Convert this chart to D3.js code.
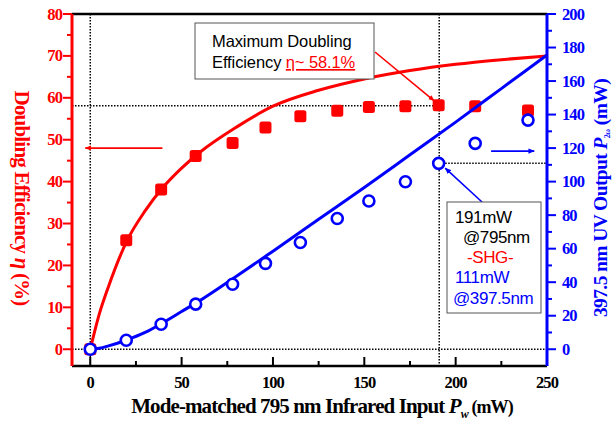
<!DOCTYPE html>
<html>
<head>
<meta charset="utf-8">
<script src="https://cdn.jsdelivr.net/npm/d3@7"></script>
<style>
    body { margin: 0; background: #fff; }
    svg text { font-family: "Liberation Serif", "Times New Roman", serif; }
    .note { font-family: "Liberation Sans", Arial, sans-serif; }
</style>
</head>
<body>
<svg id="chart" width="613" height="421"></svg>
<script>
// --- Data ---
const inputPower = [0, 19.7, 38.8, 57.7, 77.9, 95.9, 115, 135.2, 152.5, 172.5, 190.7, 210.7, 239.6];
const efficiency = [0, 26.0, 38.1, 46.1, 49.2, 52.9, 55.6, 56.9, 57.8, 58.0, 58.2, 58.0, 57.0];
const uvOutput = [0, 5.4, 14.9, 26.9, 38.8, 51.2, 63.7, 78.0, 88.4, 99.9, 110.9, 122.8, 136.7];

// fitted curves
const fitX = [0, 5, 10, 20, 30, 40, 50, 60, 80, 100, 125, 150, 175, 200, 225, 250];
const fitEff = [0, 8.5, 15, 25.8, 33, 38.7, 43.2, 47, 53, 58, 61.8, 64.5, 66.5, 68, 69.1, 70];
const fitUV = [0, 0.6, 2, 5.5, 10, 16, 22.5, 29, 43.5, 58.5, 77.5, 96.5, 116, 135.5, 155.5, 175.5];

const xTicks = [0, 50, 100, 150, 200, 250];
const effTicks = [0, 10, 20, 30, 40, 50, 60, 70, 80];
const uvTicks = [0, 20, 40, 60, 80, 100, 120, 140, 160, 180, 200];

const maxPoint = { x: 191, eff: 58.1, uv: 111 };

// --- Layout ---
const margin = { top: 14, right: 66, bottom: 55, left: 72 };
const W = 613, H = 421;
const svg = d3.select('#chart');

const x = d3.scaleLinear().domain([-10, 250]).range([margin.left, W - margin.right]);
const yL = d3.scaleLinear().domain([-4, 80]).range([H - margin.bottom, margin.top]);
const yR = d3.scaleLinear().domain([-10, 200]).range([H - margin.bottom, margin.top]);

const RED = '#ff0000', BLUE = '#0000ff';
const x0 = x.range()[0], x1 = x.range()[1];
const yTop = margin.top, yBot = H - margin.bottom;

// arrow heads
const defs = svg.append('defs');
[['arrRed', RED], ['arrBlue', BLUE]].forEach(([id, c]) => {
    defs.append('marker')
        .attr('id', id).attr('viewBox', '0 0 10 10')
        .attr('refX', 9).attr('refY', 5)
        .attr('markerWidth', 4).attr('markerHeight', 4)
        .attr('markerUnits', 'strokeWidth')
        .attr('orient', 'auto')
        .append('path').attr('d', 'M0,1 L10,5 L0,9 Z').attr('fill', c);
});

// --- Dotted guide lines ---
const dot = (x1_, y1_, x2_, y2_) => svg.append('line')
    .attr('x1', x1_).attr('y1', y1_).attr('x2', x2_).attr('y2', y2_)
    .attr('stroke', '#000').attr('stroke-width', 1.5).attr('stroke-dasharray', '1.5,1.5');

dot(x(0), yTop, x(0), yBot);
dot(x(maxPoint.x), yTop, x(maxPoint.x), yBot);
dot(x0, yL(maxPoint.eff), x(maxPoint.x), yL(maxPoint.eff));
dot(x(maxPoint.x), yR(maxPoint.uv), x1, yR(maxPoint.uv));
dot(x0, yL(0), x1, yL(0));

// --- Axes ---
// top frame
svg.append('line').attr('x1', x0).attr('x2', x1).attr('y1', yTop).attr('y2', yTop)
    .attr('stroke', '#000').attr('stroke-width', 2.5);

// bottom axis
const gx = svg.append('g');
gx.append('line').attr('x1', x0).attr('x2', x1).attr('y1', yBot).attr('y2', yBot)
    .attr('stroke', '#000').attr('stroke-width', 2.5);
d3.range(0, 251, 25).forEach(v => {
    gx.append('line').attr('x1', x(v)).attr('x2', x(v))
        .attr('y1', yBot).attr('y2', yBot - (v % 50 === 0 ? 9 : 5))
        .attr('stroke', '#000').attr('stroke-width', 2);
});
gx.selectAll('text.tick').data(xTicks).join('text')
    .attr('x', d => x(d)).attr('y', 388)
    .attr('text-anchor', 'middle')
    .attr('font-size', 16.5).attr('font-weight', 'bold')
    .attr('letter-spacing', -0.9)
    .text(d => d);

// left axis (efficiency)
const gl = svg.append('g');
gl.append('line').attr('x1', x0).attr('x2', x0).attr('y1', yTop).attr('y2', yBot)
    .attr('stroke', RED).attr('stroke-width', 3);
d3.range(0, 81, 5).forEach(v => {
    gl.append('line').attr('x1', x0).attr('x2', x0 - (v % 10 === 0 ? 9 : 5))
        .attr('y1', yL(v)).attr('y2', yL(v))
        .attr('stroke', RED).attr('stroke-width', 2);
});
gl.selectAll('text').data(effTicks).join('text')
    .attr('x', x0 - 10).attr('y', d => yL(d) + 5.5)
    .attr('text-anchor', 'end').attr('fill', RED)
    .attr('font-size', 16.5).attr('font-weight', 'bold')
    .attr('letter-spacing', -0.9)
    .text(d => d);

// right axis (UV output)
const gr = svg.append('g');
gr.append('line').attr('x1', x1).attr('x2', x1).attr('y1', yTop).attr('y2', yBot)
    .attr('stroke', BLUE).attr('stroke-width', 3);
d3.range(0, 201, 10).forEach(v => {
    gr.append('line').attr('x1', x1).attr('x2', x1 + (v % 20 === 0 ? 9 : 5))
        .attr('y1', yR(v)).attr('y2', yR(v))
        .attr('stroke', BLUE).attr('stroke-width', 2);
});
gr.selectAll('text').data(uvTicks).join('text')
    .attr('x', x1 + 15).attr('y', d => yR(d) + 5.5)
    .attr('text-anchor', 'start').attr('fill', BLUE)
    .attr('font-size', 16.5).attr('font-weight', 'bold')
    .attr('letter-spacing', -0.9)
    .text(d => d);

// --- Axis titles ---
const xt = svg.append('text')
    .attr('x', 322).attr('y', 413).attr('text-anchor', 'middle')
    .attr('font-size', 21).attr('font-weight', 'bold').attr('letter-spacing', -0.9);
xt.append('tspan').text('Mode-matched 795 nm Infrared Input ');
xt.append('tspan').attr('font-style', 'italic').text('P');
xt.append('tspan').attr('font-size', 12).attr('font-style', 'italic').attr('dy', 5).text('w');
xt.append('tspan').attr('dy', -5).attr('font-size', 18).text(' (mW)');

const lt = svg.append('text')
    .attr('transform', 'translate(15,198) rotate(90)')
    .attr('text-anchor', 'middle').attr('fill', RED)
    .attr('font-size', 21).attr('font-weight', 'bold').attr('letter-spacing', -0.8);
lt.append('tspan').text('Doubling Efficiency ');
lt.append('tspan').attr('font-style', 'italic').text('η');
lt.append('tspan').text('  (%)');

const rt = svg.append('text')
    .attr('transform', 'translate(607,198) rotate(-90)')
    .attr('text-anchor', 'middle').attr('fill', BLUE)
    .attr('font-size', 19.5).attr('font-weight', 'bold').attr('letter-spacing', -0.6);
rt.append('tspan').text('397.5 nm UV Output ');
rt.append('tspan').attr('font-style', 'italic').text('P');
rt.append('tspan').attr('font-size', 8).attr('dy', 3).text('2ω');
rt.append('tspan').attr('dy', -3).text(' (mW)');

// --- Series ---
const effLine = d3.line().x((d, i) => x(fitX[i])).y(d => yL(d)).curve(d3.curveMonotoneX);
const uvLine = d3.line().x((d, i) => x(fitX[i])).y(d => yR(d)).curve(d3.curveMonotoneX);

svg.append('path').datum(fitEff)
    .attr('fill', 'none').attr('stroke', RED).attr('stroke-width', 3)
    .attr('d', effLine);

svg.append('g').selectAll('rect').data(efficiency).join('rect')
    .attr('x', (d, i) => x(inputPower[i]) - 6)
    .attr('y', d => yL(d) - 6)
    .attr('width', 12).attr('height', 12).attr('rx', 2.5)
    .attr('fill', RED);

svg.append('path').datum(fitUV)
    .attr('fill', 'none').attr('stroke', BLUE).attr('stroke-width', 3)
    .attr('d', uvLine);

svg.append('g').selectAll('circle').data(uvOutput).join('circle')
    .attr('cx', (d, i) => x(inputPower[i]))
    .attr('cy', d => yR(d))
    .attr('r', 5.5)
    .attr('fill', '#fff').attr('stroke', BLUE).attr('stroke-width', 2.6);

// --- Direction arrows ---
svg.append('line')
    .attr('x1', x(39.5)).attr('y1', yL(48)).attr('x2', x(-2.7)).attr('y2', yL(48))
    .attr('stroke', RED).attr('stroke-width', 1.6).attr('marker-end', 'url(#arrRed)');
svg.append('line')
    .attr('x1', x(219.4)).attr('y1', yR(118.2)).attr('x2', x(243)).attr('y2', yR(118.2))
    .attr('stroke', BLUE).attr('stroke-width', 1.6).attr('marker-end', 'url(#arrBlue)');

// --- Annotation: maximum efficiency ---
svg.append('line')
    .attr('x1', 375).attr('y1', 52).attr('x2', x(maxPoint.x) - 5).attr('y2', yL(maxPoint.eff) - 5)
    .attr('stroke', RED).attr('stroke-width', 1.6).attr('marker-end', 'url(#arrRed)');
svg.append('rect').attr('x', 195).attr('y', 23).attr('width', 179).attr('height', 56)
    .attr('fill', '#fff').attr('stroke', '#555').attr('stroke-width', 1);
svg.append('text').attr('class', 'note').attr('x', 212).attr('y', 47)
    .attr('font-size', 16.5).attr('letter-spacing', -0.1).text('Maximum Doubling');
const t2 = svg.append('text').attr('class', 'note').attr('x', 212).attr('y', 68)
    .attr('font-size', 16.5).attr('letter-spacing', -0.1);
t2.append('tspan').text('Efficiency ');
t2.append('tspan').attr('fill', RED).attr('text-decoration', 'underline').text('η~ 58.1%');

// --- Annotation: SHG output ---
svg.append('line')
    .attr('x1', 482).attr('y1', 202).attr('x2', x(maxPoint.x) + 6).attr('y2', yR(maxPoint.uv) + 5)
    .attr('stroke', BLUE).attr('stroke-width', 1.6).attr('marker-end', 'url(#arrBlue)');
svg.append('rect').attr('x', 447).attr('y', 202).attr('width', 94).attr('height', 111)
    .attr('fill', '#fff').attr('stroke', '#555').attr('stroke-width', 1);
const noteLines = [
    { t: '191mW', x: 455, y: 223, c: '#000' },
    { t: '@795nm', x: 463, y: 243, c: '#000' },
    { t: '-SHG-', x: 467, y: 263, c: RED },
    { t: '111mW', x: 455, y: 283, c: BLUE },
    { t: '@397.5nm', x: 453, y: 304, c: BLUE }
];
svg.append('g').selectAll('text').data(noteLines).join('text')
    .attr('class', 'note')
    .attr('x', d => d.x).attr('y', d => d.y)
    .attr('fill', d => d.c)
    .attr('font-size', 17).attr('letter-spacing', -0.4)
    .text(d => d.t);
</script>
</body>
</html>
